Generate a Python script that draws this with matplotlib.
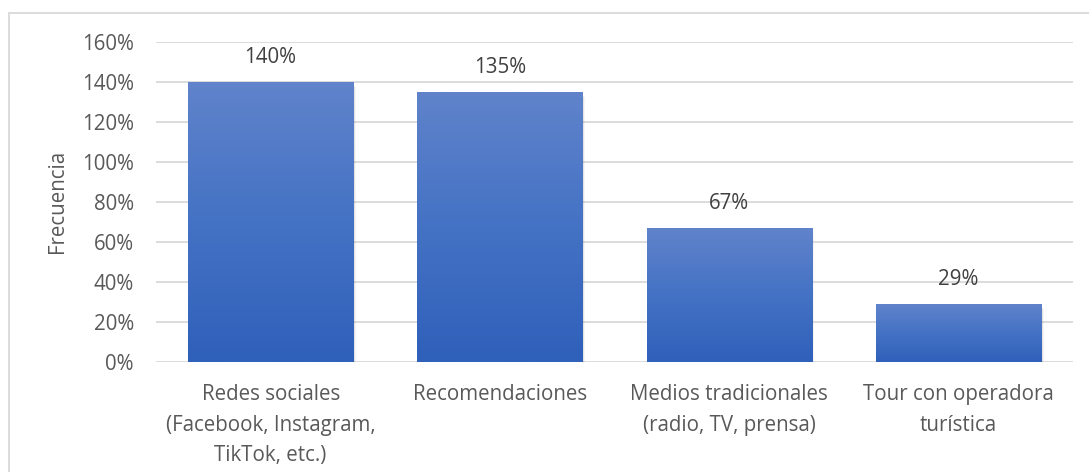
import matplotlib
matplotlib.use("Agg")
import matplotlib.pyplot as plt
import numpy as np
from matplotlib.patches import Rectangle
from matplotlib.colors import LinearSegmentedColormap

categories = ["Redes sociales\n(Facebook, Instagram,\nTikTok, etc.)",
              "Recomendaciones",
              "Medios tradicionales\n(radio, TV, prensa)",
              "Tour con operadora\nturística"]
values = [1.40, 1.35, 0.67, 0.29]
labels = ["140%", "135%", "67%", "29%"]
yticks = [0, 0.2, 0.4, 0.6, 0.8, 1.0, 1.2, 1.4, 1.6]
yticklabels = ["0%", "20%", "40%", "60%", "80%", "100%", "120%", "140%", "160%"]

plt.rcParams['font.family'] = ['Open Sans', 'DejaVu Sans']
W, H = 1089, 472
fig = plt.figure(figsize=(W / 100, H / 100), dpi=100)
fig.patch.set_facecolor("white")

# outer chart border
fig.patches.append(Rectangle((9 / W, -0.2), 1.5, 1.2 - 13 / H, transform=fig.transFigure,
                             fill=False, edgecolor="#D9D9D9", linewidth=1.3, zorder=0))

ax = fig.add_axes([156 / W, 1 - 361.7 / H, (1073 - 156) / W, (361.7 - 41.7) / H])
ax.set_xlim(-0.5, 3.5)
ax.set_ylim(0, 1.6)
ax.set_facecolor("none")

fs = 14.8
for s in ax.spines.values():
    s.set_visible(False)
ax.set_yticks(yticks)
ax.set_yticklabels(yticklabels)
ax.yaxis.grid(True, color="#D9D9D9", linewidth=1.3)
ax.set_axisbelow(True)
ax.tick_params(axis="y", length=0, pad=16, labelsize=fs, labelcolor="#595959")
ax.tick_params(axis="x", length=0, pad=16, labelsize=fs, labelcolor="#595959")
x = np.arange(len(values))
ax.set_xticks(x)
ax.set_xticklabels(categories, linespacing=1.6, va="top")
ax.set_ylabel("Frecuencia", fontsize=fs, color="#595959", labelpad=10)

cmap = LinearSegmentedColormap.from_list("g", ["#2F60BA", "#4472C4", "#6083CB"])
grad = np.linspace(0, 1, 256).reshape(-1, 1)
width = 0.72

# soft shadow
for i, (xi, v) in enumerate(zip(x, values)):
    for k, a in enumerate([0.10, 0.07, 0.04]):
        off = (k + 1) * 0.004
        ax.add_patch(Rectangle((xi - width / 2 + off, -0.01 - off * 1.5), width, v,
                               facecolor="black", alpha=a, edgecolor="none", zorder=2))

bars = ax.bar(x, values, width=width, color="#4472C4", zorder=3)
for b in bars:
    x0, y0 = b.get_x(), b.get_y()
    im = ax.imshow(grad, extent=[x0, x0 + b.get_width(), y0, y0 + b.get_height()],
                   origin="lower", aspect="auto", cmap=cmap, zorder=4)
    im.set_clip_path(b)
ax.set_xlim(-0.5, 3.5)
ax.set_ylim(0, 1.6)

for xi, v, lab in zip(x, values, labels):
    ax.annotate(lab, (xi, v), xytext=(0, 24), textcoords="offset pixels",
                ha="center", va="center", fontsize=fs, color="#404040")

fig.savefig("out.png", dpi=100)
